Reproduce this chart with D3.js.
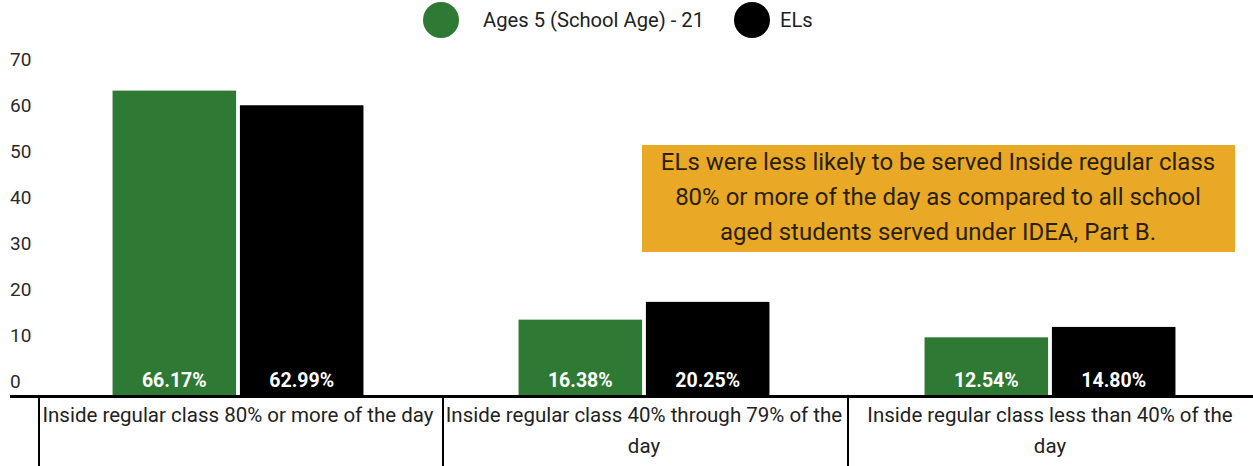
<!DOCTYPE html>
<html>
<head>
<meta charset="utf-8">
<script src="https://cdn.jsdelivr.net/npm/d3@7"></script>
<style>
  html, body { margin: 0; padding: 0; background: #fff; }
  svg { display: block; font-family: Roboto, "Noto Sans", sans-serif; }
</style>
</head>
<body>
<svg id="chart" width="1253" height="466"></svg>
<script>
// ---- data ----
const categories = [
  "Inside regular class 80% or more of the day",
  "Inside regular class 40% through 79% of the day",
  "Inside regular class less than 40% of the day"
];
const seriesNames = ["Ages 5 (School Age) - 21", "ELs"];
const ages5to21 = [66.17, 16.38, 12.54];
const els = [62.99, 20.25, 14.80];
const yTicks = [0, 10, 20, 30, 40, 50, 60, 70];
const annotationLines = [
  "ELs were less likely to be served Inside regular class",
  "80% or more of the day as compared to all school",
  "aged students served under IDEA, Part B."
];

const colors = ["#2e7a34", "#000000"];
const seriesValues = [ages5to21, els];

const W = 1253, H = 466;
const svg = d3.select("#chart");

const baseY = 395;
const y = d3.scaleLinear().domain([0, 70]).range([baseY, baseY - 70 * 4.6]);
const x0 = d3.scaleBand().domain(categories).range([35, 1253])
  .paddingInner(0.382).paddingOuter(0.191);
const x1 = d3.scaleBand().domain(seriesNames).range([0, x0.bandwidth()]).paddingInner(0.03);

// y axis labels
const yAxis = svg.append("g").attr("class", "y-axis")
  .call(d3.axisLeft(y).tickValues(yTicks).tickSize(0));
yAxis.select(".domain").remove();
yAxis.selectAll("text")
  .attr("x", 10).attr("dy", 0).attr("y", -8)
  .attr("text-anchor", "start")
  .style("font-size", "19px").style("font-family", "Roboto")
  .attr("fill", "#2a2a2a");

// bars
const groups = svg.append("g").selectAll("g").data(categories).join("g")
  .attr("transform", d => `translate(${x0(d)},0)`);
groups.each(function(cat, ci) {
  const g = d3.select(this);
  seriesNames.forEach((s, si) => {
    const v = seriesValues[si][ci];
    g.append("rect")
      .attr("x", x1(s)).attr("width", x1.bandwidth())
      .attr("y", y(v)).attr("height", baseY - y(v))
      .attr("fill", colors[si]);
    g.append("text")
      .attr("x", x1(s) + x1.bandwidth() / 2).attr("y", 387)
      .attr("text-anchor", "middle")
      .attr("fill", "#fff")
      .style("font-size", "19.5px").style("font-weight", "bold")
      .text(v.toFixed(2) + "%");
  });
});

// x axis line
svg.append("line").attr("x1", 10).attr("x2", W).attr("y1", 396.5).attr("y2", 396.5)
  .attr("stroke", "#000").attr("stroke-width", 3);

// separators
const seps = [x0.range()[0], ...categories.map(c => x0(c) + x0.bandwidth() + x0.step() * x0.paddingInner() / 2)];
svg.append("g").selectAll("line").data(seps.slice(0, 3)).join("line")
  .attr("x1", (d, i) => d + [4, 2, 1][i]).attr("x2", (d, i) => d + [4, 2, 1][i])
  .attr("y1", 397).attr("y2", H)
  .attr("stroke", "#000").attr("stroke-width", 2);

// category labels with wrapping
const labelSize = 20.5;
categories.forEach(cat => {
  const cx = x0(cat) + x0.bandwidth() / 2;
  const t = svg.append("text").attr("text-anchor", "middle")
    .attr("fill", "#222").style("font-size", labelSize + "px");
  const words = cat.split(" ");
  let lines = [], line = [];
  const maxW = 398.5;
  const probe = svg.append("text").style("font-size", labelSize + "px");
  words.forEach(w => {
    line.push(w);
    probe.text(line.join(" "));
    if (probe.node().getComputedTextLength() > maxW && line.length > 1) {
      line.pop(); lines.push(line.join(" ")); line = [w];
    }
  });
  lines.push(line.join(" "));
  probe.remove();
  lines.forEach((l, i) => {
    t.append("tspan").attr("x", cx).attr("y", 422 + i * 31).text(l);
  });
});

// legend
const legendItems = [
  { name: seriesNames[0], cx: 441, tx: 483, color: colors[0] },
  { name: seriesNames[1], cx: 752, tx: 780, color: colors[1] }
];
const lg = svg.append("g");
legendItems.forEach(it => {
  lg.append("circle").attr("cx", it.cx).attr("cy", 20).attr("r", 18).attr("fill", it.color);
  lg.append("text").attr("x", it.tx).attr("y", 27).attr("fill", "#222")
    .style("font-size", "20.2px").text(it.name);
});

// annotation box
svg.append("rect").attr("x", 642).attr("y", 145).attr("width", 593).attr("height", 107)
  .attr("fill", "#e9a926");
annotationLines.forEach((l, i) => {
  svg.append("text").attr("x", 938).attr("y", 170 + i * 35)
    .attr("text-anchor", "middle").attr("fill", "#2a1f05")
    .style("font-size", "24px").text(l);
});
</script>
</body>
</html>
